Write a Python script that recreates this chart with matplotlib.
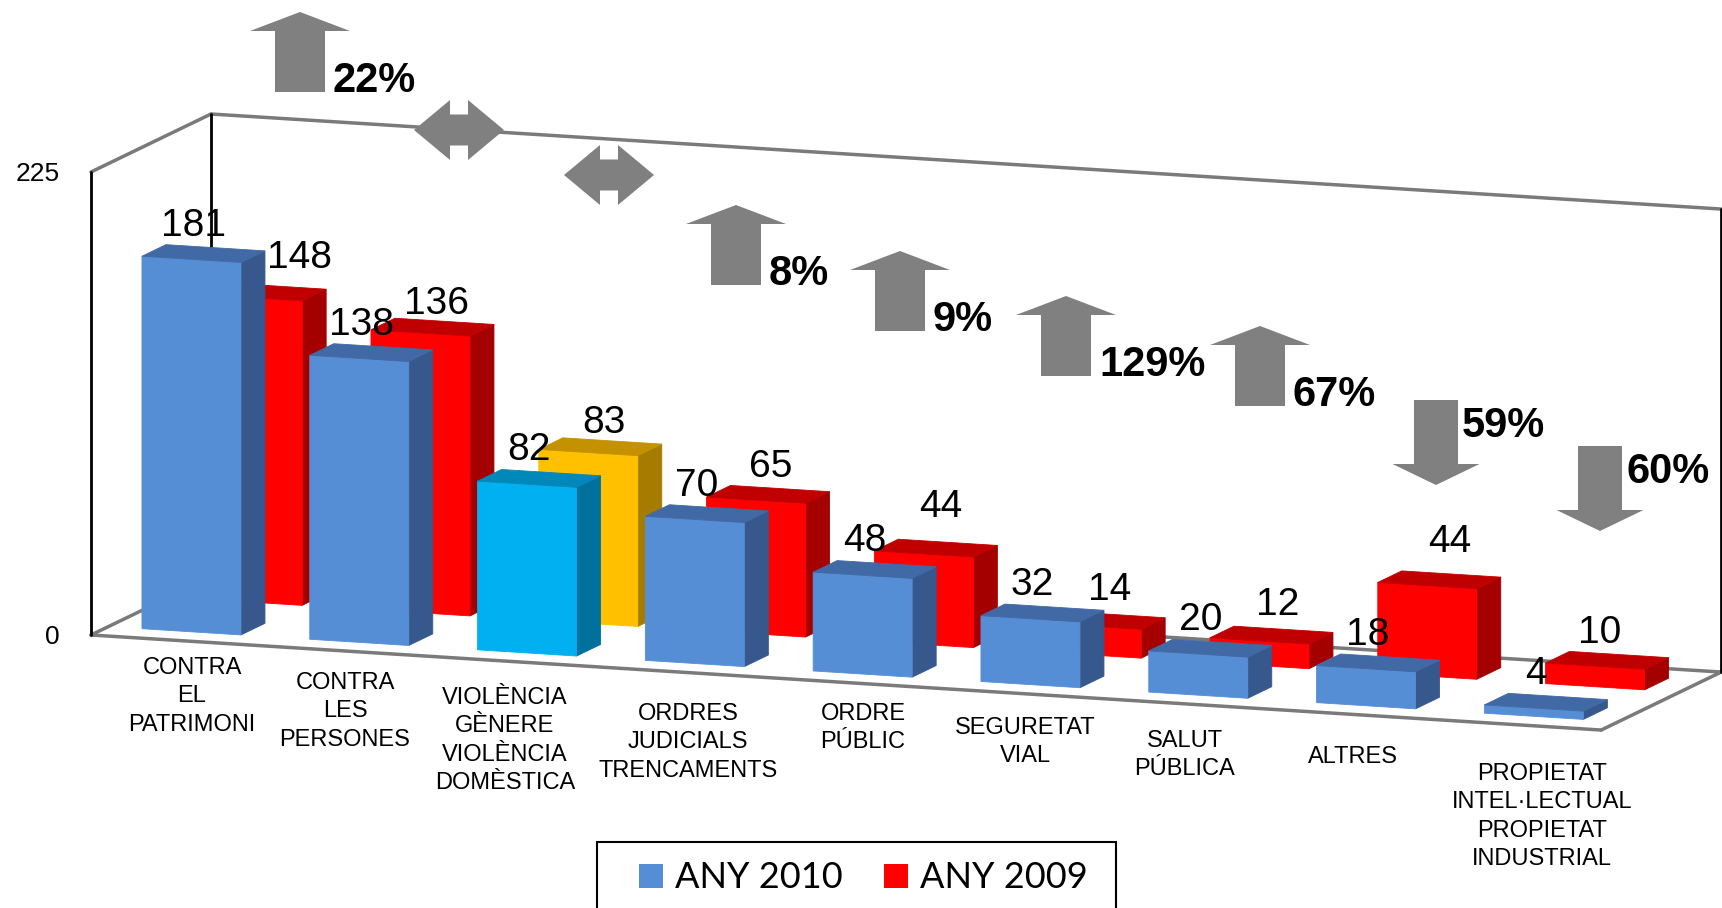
import matplotlib
matplotlib.use('Agg')
import matplotlib.pyplot as plt
from matplotlib.patches import Polygon, Rectangle

# dades
categories = ['CONTRA\nEL\nPATRIMONI', 'CONTRA\nLES\nPERSONES',
              'VIOLÈNCIA\nGÈNERE\nVIOLÈNCIA\nDOMÈSTICA',
              'ORDRES\nJUDICIALS\nTRENCAMENTS', 'ORDRE\nPÚBLIC',
              'SEGURETAT\nVIAL', 'SALUT\nPÚBLICA', 'ALTRES',
              'PROPIETAT\nINTEL·LECTUAL\nPROPIETAT\nINDUSTRIAL']
any_2010 = [181, 138, 82, 70, 48, 32, 20, 18, 4]
any_2009 = [148, 136, 83, 65, 44, 14, 12, 44, 10]
series_names = ['ANY 2010', 'ANY 2009']
y_ticks = [0, 225]

# projeccio obliqua (pixels)
X0, Y0 = 91, 635
UX, UY = 167.8, 10.56
VX, VY = 120, -58
ZMAX, ZH = 225, 463

def proj(u, v, z):
    return X0 + UX * u + VX * v, Y0 + UY * u + VY * v - ZH * z / ZMAX

# estil
FONT = 'Liberation Sans'
C2010 = ('#558ED5', '#36588C', '#4169A5')
C2009 = ('#FF0000', '#A50000', '#C00000')
HL2010 = ('#00B0F0', '#00709C', '#0088BB')
HL2009 = ('#FFC000', '#A67C00', '#C49200')
HIGHLIGHT = 2
BAR_U = (0.2, 0.79)
DEPTH_2010 = (0.145, 0.345)
DEPTH_2009 = (0.655, 0.855)
GREY = '#808080'

# posicions de text (maquetacio)
label_x = [192, 345, 505, 688, 863, 1025, 1185, 1353, 1542]
label_base = [674, 689, 704, 720, 720, 734, 747, 763, 780]
line_pitch = 28.3
red_nudge = [(35, -24), (4, -13), (4, -14), (3, -17), (5, -31), (6, -20),
             (6, -20), (10, -28), (-7, -17)]
blue_nudge = (-10, -18)
arrow_pos = [(300, 12), (459, 130), (609, 175), (736, 205), (900, 251),
             (1066, 296), (1260, 326), (1436, 400), (1600, 446)]

fig = plt.figure(figsize=(17.22, 9.08), dpi=100)
ax = fig.add_axes([0, 0, 1, 1])
ax.set_xlim(0, 1722)
ax.set_ylim(908, 0)
ax.axis('off')

n = len(categories)

def line3d(p, q, **kw):
    a, b = proj(*p), proj(*q)
    ax.plot([a[0], b[0]], [a[1], b[1]], zorder=1, solid_capstyle='round', **kw)

# parets i terra
grey_kw = dict(color='#7a7a7a', lw=2.5)
black_kw = dict(color='black', lw=2)
line3d((0, 0, 0), (n, 0, 0), **grey_kw)
line3d((n, 0, 0), (n, 1, 0), **grey_kw)
line3d((0, 0, 0), (0, 1, 0), **grey_kw)
line3d((0, 1, 0), (n, 1, 0), **grey_kw)
line3d((0, 0, ZMAX), (0, 1, ZMAX), **grey_kw)
line3d((0, 1, ZMAX), (n, 1, ZMAX), **grey_kw)
line3d((0, 0, 0), (0, 0, ZMAX), **black_kw)
line3d((0, 1, 0), (0, 1, ZMAX), **black_kw)
line3d((n, 1, 0), (n, 1, ZMAX), **black_kw)

for t in y_ticks:
    x, y = proj(0, 0, t)
    ax.text(x - 31, y + 2, str(t), ha='right', va='center', fontsize=19,
            family=FONT, zorder=10)

def bar3d(i, val, depth, cols):
    u0, u1 = i + BAR_U[0], i + BAR_U[1]
    v0, v1 = depth
    front = [proj(u0, v0, 0), proj(u1, v0, 0), proj(u1, v0, val), proj(u0, v0, val)]
    side = [proj(u1, v0, 0), proj(u1, v1, 0), proj(u1, v1, val), proj(u1, v0, val)]
    top = [proj(u0, v0, val), proj(u1, v0, val), proj(u1, v1, val), proj(u0, v1, val)]
    for pts, c in ((side, cols[1]), (front, cols[0]), (top, cols[2])):
        ax.add_patch(Polygon(pts, closed=True, facecolor=c, edgecolor=c,
                             lw=0.6, zorder=2))
    return proj((u0 + u1) / 2, (v0 + v1) / 2, val)

# serie del fons (2009) i despres la del davant (2010)
for i, val in enumerate(any_2009):
    cols = HL2009 if i == HIGHLIGHT else C2009
    x, y = bar3d(i, val, DEPTH_2009, cols)
    dx, dy = red_nudge[i]
    ax.text(x + dx, y + dy, str(val), ha='center', va='baseline', fontsize=28,
            family=FONT, zorder=10)

for i, val in enumerate(any_2010):
    cols = HL2010 if i == HIGHLIGHT else C2010
    x, y = bar3d(i, val, DEPTH_2010, cols)
    ax.text(x + blue_nudge[0], y + blue_nudge[1], str(val), ha='center',
            va='baseline', fontsize=28, family=FONT, zorder=10)

# etiquetes de categoria
for i, lab in enumerate(categories):
    for k, part in enumerate(lab.split('\n')):
        ax.text(label_x[i], label_base[i] + k * line_pitch, part, ha='center',
                va='baseline', fontsize=17, family=FONT, zorder=10)

# fletxes de variacio
def up_arrow(cx, top, w=100, sw=50, h=80, hh=19):
    pts = [(cx, top), (cx + w / 2, top + hh), (cx + sw / 2, top + hh),
           (cx + sw / 2, top + h), (cx - sw / 2, top + h), (cx - sw / 2, top + hh),
           (cx - w / 2, top + hh)]
    ax.add_patch(Polygon(pts, closed=True, color=GREY, lw=0, zorder=3))
    return cx + sw / 2 + 8, top + h

def down_arrow(cx, top, w=87, sw=44, h=85, hh=21):
    bot = top + h
    pts = [(cx, bot), (cx + w / 2, bot - hh), (cx + sw / 2, bot - hh),
           (cx + sw / 2, top), (cx - sw / 2, top), (cx - sw / 2, bot - hh),
           (cx - w / 2, bot - hh)]
    ax.add_patch(Polygon(pts, closed=True, color=GREY, lw=0, zorder=3))
    return cx + sw / 2 + 4, top + 37

def lr_arrow(cx, cy, w=90, h=60, sh=31, hl=36):
    l, r = cx - w / 2, cx + w / 2
    pts = [(l, cy), (l + hl, cy - h / 2), (l + hl, cy - sh / 2), (r - hl, cy - sh / 2),
           (r - hl, cy - h / 2), (r, cy), (r - hl, cy + h / 2), (r - hl, cy + sh / 2),
           (l + hl, cy + sh / 2), (l + hl, cy + h / 2)]
    ax.add_patch(Polygon(pts, closed=True, color=GREY, lw=0, zorder=3))

for i in range(n):
    pct = (any_2010[i] - any_2009[i]) / any_2009[i] * 100
    cx, cy = arrow_pos[i]
    if abs(pct) < 5:
        lr_arrow(cx, cy)
        continue
    if pct > 0:
        tx, ty = up_arrow(cx, cy)
    else:
        tx, ty = down_arrow(cx, cy)
    ax.text(tx, ty, '%d%%' % round(abs(pct)), ha='left', va='baseline',
            fontsize=30, fontweight='bold', family=FONT, zorder=10)

# llegenda
ax.add_patch(Rectangle((597, 842), 519, 120, facecolor='white', edgecolor='black',
                       lw=1.5, zorder=5))
for x_sq, x_tx, name, c in ((639, 675, series_names[0], C2010[0]),
                            (884, 920, series_names[1], C2009[0])):
    ax.add_patch(Rectangle((x_sq, 864), 24, 24, facecolor=c, lw=0, zorder=6))
    ax.text(x_tx, 888, name, ha='left', va='baseline', fontsize=26,
            family='Lato', zorder=7)

fig.savefig('out.png', dpi=100)
